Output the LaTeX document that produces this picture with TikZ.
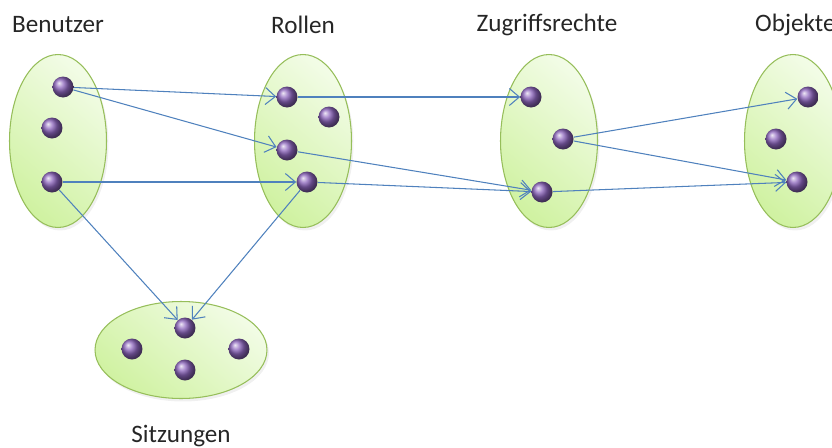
\documentclass[tikz,border=0pt]{standalone}
\usepackage{fontspec}
\setmainfont{Carlito}
\usetikzlibrary{positioning, shapes, arrows.meta, shadows}

\definecolor{gruenDunkel}{RGB}{208,242,162}
\definecolor{gruenHell}{RGB}{242,252,230}
\definecolor{gruenRand}{RGB}{150,190,90}
\definecolor{punktLila}{RGB}{128,84,182}
\definecolor{pfeilBlau}{RGB}{79,129,189}

\tikzset{
    menge/.style={
        ellipse,
        draw=gruenRand,      % olivgruene Kontur
        line width=0.6pt,
        top color=gruenHell,
        bottom color=gruenDunkel,
        shading angle=-40,
        drop shadow={opacity=0.12, shadow xshift=0.4mm, shadow yshift=-0.6mm}
    },
    hoch/.style={menge, minimum width=1.94cm, minimum height=3.46cm},
    quer/.style={menge, minimum width=3.44cm, minimum height=1.94cm},
    punkt/.style={
        circle,
        ball color=punktLila!90!white,
        minimum size=4.2mm,
        inner sep=0pt
    },
    pfeil/.style={
        draw=pfeilBlau,
        line width=0.6pt,
        -{Straight Barb[length=2mm, width=3.4mm]}
    },
    titel/.style={font=\fontsize{14.3}{17}\selectfont, text=black!85}
}

\begin{document}
\begin{tikzpicture}[x=0.02cm, y=-0.02cm]

    \useasboundingbox (0,0) rectangle (832,447);
    \clip (0,0) rectangle (832,447);

    % Mengen
    \node[hoch] (benutzer) at (58,141) {};
    \node[hoch] (rollen)   at (303,141) {};
    \node[hoch] (rechte)   at (549,141) {};
    \node[hoch] (objekte)  at (793,141) {};
    \node[quer] (sitzungen) at (181,350) {};

    % Beschriftungen
    \node[titel] (tBenutzer) at (58,25) {Benutzer};
    \node[titel] (tRollen)   at (303,25) {Rollen};
    \node[titel] (tRechte)   at (547,25) {Zugriffsrechte};
    \node[titel, anchor=west] (tObjekte) at (749,25) {Objekte};
    \node[titel] (tSitzungen) at (181,436) {Sitzungen};

    % Benutzer
    \node[punkt] (b1) at (63,87) {};
    \node[punkt] (b2) at (52,128) {};
    \node[punkt] (b3) at (52,182) {};

    % Rollen
    \node[punkt] (r1) at (287,97) {};
    \node[punkt] (r2) at (329,117) {};
    \node[punkt] (r3) at (287,150) {};
    \node[punkt] (r4) at (307,182) {};

    % Zugriffsrechte
    \node[punkt] (z1) at (531,97) {};
    \node[punkt] (z2) at (563,139) {};
    \node[punkt] (z3) at (542,192) {};

    % Objekte
    \node[punkt] (o1) at (808,97) {};
    \node[punkt] (o2) at (776,139) {};
    \node[punkt] (o3) at (797,182) {};

    % Sitzungen
    \node[punkt] (s1) at (185,328) {};
    \node[punkt] (s2) at (132,349) {};
    \node[punkt] (s3) at (239,349) {};
    \node[punkt] (s4) at (185,370) {};

    % Zuordnungen
    \draw[pfeil] (b1) -- (r1);
    \draw[pfeil] (b1) -- (r3);
    \draw[pfeil] (b3) -- (r4);
    \draw[pfeil] (b3) -- (s1);
    \draw[pfeil] (r4) -- (s1);
    \draw[pfeil] (r1) -- (z1);
    \draw[pfeil] (r3) -- (z3);
    \draw[pfeil] (r4) -- (z3);
    \draw[pfeil] (z2) -- (o1);
    \draw[pfeil] (z2) -- (o3);
    \draw[pfeil] (z3) -- (o3);

\end{tikzpicture}
\end{document}
